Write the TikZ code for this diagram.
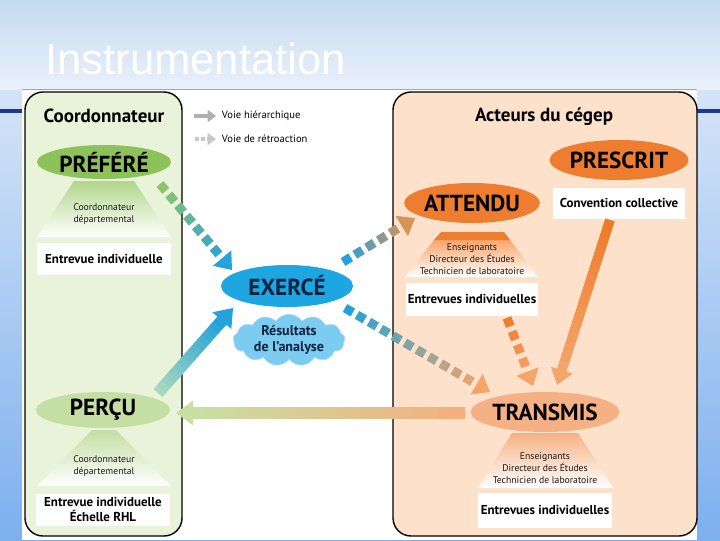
\documentclass[tikz,border=0pt]{standalone}
\usepackage{fontspec}
\setmainfont{PT Sans}
\newfontfamily\titlefont{Liberation Sans}
\usetikzlibrary{arrows.meta,shapes.geometric,shapes.symbols,positioning,calc}

\definecolor{slidetop}{HTML}{E6EEF9}
\definecolor{slideblue}{HTML}{7DB0EE}
\definecolor{bandtop}{HTML}{C6DAF0}
\definecolor{bandlow}{HTML}{E9F1FB}
\definecolor{navyline}{HTML}{1C3A8C}
\definecolor{greenpanel}{HTML}{E8F3DA}
\definecolor{greendark}{HTML}{8DC25B}
\definecolor{greenlight}{HTML}{C4DEA3}
\definecolor{greentrap}{HTML}{B3D68B}
\definecolor{peachpanel}{HTML}{FDE1CB}
\definecolor{orangedark}{HTML}{EE7D30}
\definecolor{orangelight}{HTML}{F5B184}
\definecolor{orangetrap}{HTML}{F7A66C}
\definecolor{skyblue}{HTML}{1DA6E0}
\definecolor{cloudblue}{HTML}{7CCBF1}
\definecolor{inknavy}{HTML}{0E2341}
\definecolor{legendgray}{HTML}{B0B0B0}
\definecolor{arrgreen}{HTML}{8DC46A}
\definecolor{arrpale}{HTML}{A8D8BE}
\definecolor{arrblue}{HTML}{23A2DB}
\definecolor{arrtan}{HTML}{D8935A}
\definecolor{arrorange}{HTML}{F5A46A}
\definecolor{arrdeep}{HTML}{EE7B2C}
\definecolor{arrsage}{HTML}{C8DFA2}
\definecolor{arrpeach}{HTML}{F3B07E}

\tikzset{
  panel/.style={draw=black,line width=1pt,rounded corners=0.45cm},
  paneltitle/.style={font=\fontsize{13.5}{13.5}\selectfont\bfseries},
  bigell/.style={ellipse,inner sep=0pt,minimum width=3.35cm,minimum height=0.95cm,
    font=\fontsize{16.5}{16.5}\selectfont\bfseries},
  whitebox/.style={fill=white,inner sep=0pt,minimum width=3.35cm,minimum height=0.8cm,
    align=center,font=\fontsize{9.2}{11}\selectfont\bfseries},
  whotext/.style={align=center,font=\fontsize{6.9}{8.6}\selectfont,text=black!90},
  legendtext/.style={anchor=west,font=\fontsize{7.5}{7.5}\selectfont},
  sqline/.style={line width=6.4pt},
  sqtip/.style={-{Triangle[width=17pt,length=11pt,line width=0pt]},line width=6.4pt},
  shaftline/.style={line width=8.5pt},
  bigtip/.style={-{Triangle[width=18pt,length=12pt,line width=0pt]},line width=8.5pt},
}

\begin{document}
\begin{tikzpicture}[x=0.025cm,y=-0.025cm]
\useasboundingbox (0,0) rectangle (720,540);

% slide
\shade[top color=slidetop,bottom color=slideblue] (0,0) rectangle (720,540);
\shade[top color=bandtop,bottom color=bandlow] (0,0) rectangle (720,89);
\fill[white] (22,89) rectangle (697,540);
\draw[gray!70,line width=0.6pt] (22,89) -- (697,89);
\draw[navyline,line width=2.2pt] (0,111) -- (22,111) (697,111) -- (720,111);
\node[anchor=base west,inner sep=0pt,text=white,font=\titlefont\fontsize{31}{31}\selectfont] (title) at (45,74) {Instrumentation};

% panels
\draw[panel,fill=greenpanel] (25,92) rectangle (182,536);
\draw[panel,fill=peachpanel] (393,92) rectangle (697,536);

% trapezoids
\shade[top color=greentrap,bottom color=white] (74,181) -- (134,181) -- (171,237) -- (37,237) -- cycle;
\shade[top color=greenlight,bottom color=white] (92,430) -- (116,430) -- (171,486) -- (37,486) -- cycle;
\shade[top color=orangetrap,bottom color=white] (434,240) -- (510,240) -- (538,277) -- (405,277) -- cycle;
\fill[orangedark] (441,232) -- (504,232) -- (510,240) -- (434,240) -- cycle;
\shade[top color=orangelight,bottom color=white] (512,433) -- (578,433) -- (613,488) -- (478,488) -- cycle;

% titles and legend
\node[paneltitle] (coordtitle) at (104,116) {Coordonnateur};
\node[paneltitle] (cegeptitle) at (544,117) {Acteurs du cégep};
\coordinate (lgas) at (194,116);
\coordinate (lgat) at (216,116);
\coordinate (lgbs) at (195,139);
\coordinate (lgbt) at (216,139);
\draw[line width=3.5pt,legendgray,-{Triangle[width=9pt,length=6pt,line width=0pt]}] (lgas) -- (lgat);
\draw[line width=2.6pt,legendgray!70,dash pattern=on 2.6pt off 1.8pt,
  -{Triangle[width=9pt,length=6pt,line width=0pt]}] (lgbs) -- (lgbt);
\node[legendtext] (lga) at (217,116) {Voie hiérarchique};
\node[legendtext] (lgb) at (217,139) {Voie de rétroaction};

% coordonnateur side
\node[bigell,fill=greendark,minimum height=0.85cm] (prefere) at (104,162) {PRÉFÉRÉ};
\node[whotext] (prefwho) at (104,214) {Coordonnateur\\départemental};
\node[whitebox,below=1.575cm of prefere] (prefbox) {Entrevue individuelle};
\node[bigell,fill=greenlight,minimum height=0.9cm] (percu) at (103,410) {PERÇU};
\node[whotext] (percuwho) at (104,466) {Coordonnateur\\départemental};
\node[whitebox,below=1.625cm of percu] (percubox) {Entrevue individuelle\\Échelle RHL};

% centre
\node[bigell,fill=skyblue,text=inknavy,minimum width=3.3cm,minimum height=1.05cm] (exerce) at (287,286) {EXERCÉ};
\node[cloud,cloud puffs=13,cloud puff arc=110,aspect=2.5,fill=cloudblue,draw=cloudblue!60!white,
  minimum width=2.8cm,minimum height=1.15cm,inner sep=0pt,align=center,text=inknavy,
  font=\fontsize{10}{11}\selectfont\bfseries] (results) at (289,340) {Résultats\\de l’analyse};

% acteurs du cegep
\node[bigell,fill=orangedark,minimum height=1cm] (prescrit) at (619,160) {PRESCRIT};
\node[whitebox,minimum width=3.3cm,minimum height=0.775cm,below=0.175cm of prescrit] (convbox) {Convention collective};
\node[bigell,fill=orangedark,minimum height=1cm] (attendu) at (472,203) {ATTENDU};
\node[whotext] (attenduwho) at (472,259) {Enseignants\\Directeur des Études\\Technicien de laboratoire};
\node[whitebox,minimum width=3.3cm,minimum height=0.825cm,below=1.475cm of attendu] (attendubox) {Entrevues individuelles};
\node[bigell,fill=orangelight,minimum height=1cm] (transmis) at (545,412) {TRANSMIS};
\node[whotext] (transmiswho) at (545,468) {Enseignants\\Directeur des Études\\Technicien de laboratoire};
\node[whitebox,minimum height=0.875cm,below=1.5cm of transmis] (transmisbox) {Entrevues individuelles};

% PRÉFÉRÉ -> EXERCÉ
\coordinate (a1s) at ($(prefere)+(56,22)$);
\coordinate (a1t) at ($(exerce)+(-55,-16)$);
\coordinate (a1m) at ($(a1t)!11pt!(a1s)$);
\foreach \i [evaluate=\i as \p using int(100*\i/7)] in {0,...,6}
  \draw[sqline,color=arrblue!\p!arrgreen] ($(a1s)!\i/7!(a1m)$) -- ($(a1s)!\i/7!(a1m)!6.4pt!(a1m)$);
\draw[sqtip,arrblue] (a1m) -- (a1t);

% PERÇU -> EXERCÉ
\coordinate (a2s) at ($(percu)+(55,-17)$);
\coordinate (a2t) at ($(exerce)+(-54,22)$);
\coordinate (a2m) at ($(a2t)!12pt!(a2s)$);
\foreach \i [evaluate=\i as \p using int(100*\i/15)] in {0,...,15}
  \draw[shaftline,color=arrblue!\p!arrpale] ($(a2s)!\i/16!(a2m)$) -- ($(a2s)!\i/16+0.07!(a2m)$);
\draw[bigtip,arrblue] (a2m) -- (a2t);

% EXERCÉ -> ATTENDU
\coordinate (a3s) at ($(exerce)+(56,-24)$);
\coordinate (a3t) at ($(attendu)+(-57,15)$);
\coordinate (a3m) at ($(a3t)!11pt!(a3s)$);
\foreach \i [evaluate=\i as \p using int(100*\i/5)] in {0,...,4}
  \draw[sqline,color=arrtan!\p!arrblue] ($(a3s)!\i/5!(a3m)$) -- ($(a3s)!\i/5!(a3m)!6.4pt!(a3m)$);
\draw[sqtip,arrtan] (a3m) -- (a3t);

% EXERCÉ -> TRANSMIS
\coordinate (a4s) at ($(exerce)+(58,22)$);
\coordinate (a4t) at ($(transmis)+(-55,-20)$);
\coordinate (a4m) at ($(a4t)!11pt!(a4s)$);
\foreach \i [evaluate=\i as \p using int(100*\i/11)] in {0,...,10}
  \draw[sqline,color=arrorange!\p!arrblue] ($(a4s)!\i/11!(a4m)$) -- ($(a4s)!\i/11!(a4m)!6.4pt!(a4m)$);
\draw[sqtip,arrorange] (a4m) -- (a4t);

% ATTENDU -> TRANSMIS
\coordinate (a5s) at ($(attendubox.south)+(35,2)$);
\coordinate (a5t) at ($(transmis)+(-12,-26)$);
\coordinate (a5m) at ($(a5t)!11pt!(a5s)$);
\foreach \i [evaluate=\i as \p using int(100*\i/4)] in {0,...,3}
  \draw[sqline,color=arrorange!\p!orangedark] ($(a5s)!\i/4!(a5m)$) -- ($(a5s)!\i/4!(a5m)!6.4pt!(a5m)$);
\draw[sqtip,arrorange] (a5m) -- (a5t);

% PRESCRIT -> TRANSMIS
\coordinate (a6s) at ($(convbox.south)+(-9,1)$);
\coordinate (a6t) at ($(transmis)+(12,-27)$);
\coordinate (a6m) at ($(a6t)!11pt!(a6s)$);
\foreach \i [evaluate=\i as \p using int(100*\i/15)] in {0,...,15}
  \draw[line width=7pt,color=arrorange!\p!arrdeep] ($(a6s)!\i/16!(a6m)$) -- ($(a6s)!\i/16+0.07!(a6m)$);
\draw[-{Triangle[width=16pt,length=11pt,line width=0pt]},line width=7pt,arrorange] (a6m) -- (a6t);

% TRANSMIS -> PERÇU
\coordinate (a7s) at ($(transmis.west)+(-5,1)$);
\coordinate (a7t) at ($(percu.east)+(6,0)$);
\coordinate (a7m) at ($(a7t |- a7s)+(17,0)$);
\foreach \i [evaluate=\i as \p using int(100*\i/19)] in {0,...,19}
  \draw[shaftline,color=arrsage!\p!arrpeach] ($(a7s)!\i/20!(a7m)$) -- ($(a7s)!\i/20+0.06!(a7m)$);
\draw[bigtip,arrsage] (a7m) -- (a7t |- a7s);
\end{tikzpicture}
\end{document}
